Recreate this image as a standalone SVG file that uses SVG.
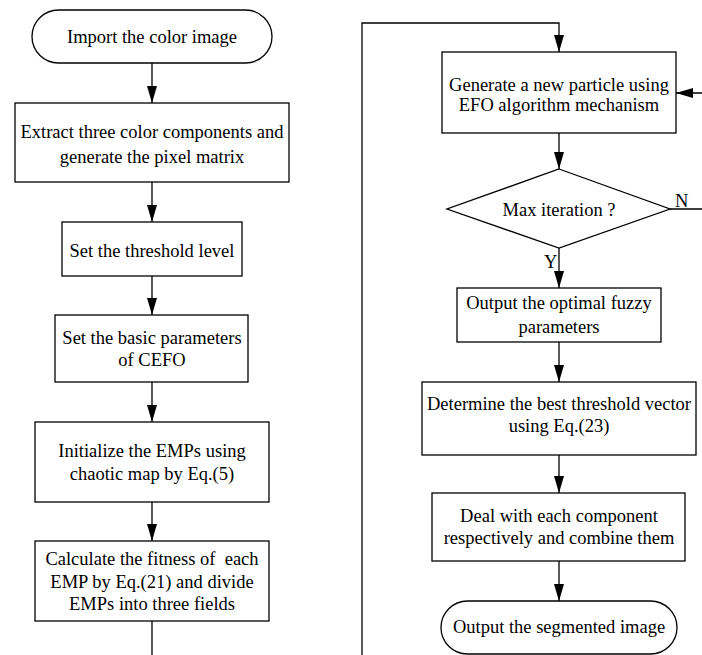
<svg xmlns="http://www.w3.org/2000/svg" width="702" height="655" viewBox="0 0 702 655">
<style>
.n{fill:#fff;stroke:#000;stroke-width:1.3}
.t{font-family:"Liberation Serif","Times New Roman",serif;font-size:18.5px;fill:#000;text-anchor:middle}
.l{font-family:"Liberation Serif","Times New Roman",serif;font-size:18.5px;fill:#000}
.c{fill:none;stroke:#000;stroke-width:1.3}
</style>
<defs>
<marker id="ah" viewBox="0 0 17 10" refX="17" refY="5" markerWidth="17" markerHeight="10" markerUnits="userSpaceOnUse" orient="auto">
<path d="M0,0 L17,5 L0,10 z" fill="#000"/>
</marker>
</defs>
<rect width="702" height="655" fill="#fff"/>
<g id="connectors">
<line class="c" x1="152" y1="63" x2="152" y2="103" marker-end="url(#ah)"/>
<line class="c" x1="152" y1="182" x2="152" y2="222" marker-end="url(#ah)"/>
<line class="c" x1="152" y1="276" x2="152" y2="315" marker-end="url(#ah)"/>
<line class="c" x1="152" y1="382" x2="152" y2="422" marker-end="url(#ah)"/>
<line class="c" x1="152" y1="502" x2="152" y2="541" marker-end="url(#ah)"/>
<line class="c" x1="152" y1="621" x2="152" y2="656"/>
<path class="c" d="M362,656 V23 H559 V52" marker-end="url(#ah)"/>
<line class="c" x1="559" y1="133" x2="559" y2="169" marker-end="url(#ah)"/>
<path class="c" d="M670,209 H712 V93 H676" marker-end="url(#ah)"/>
<line class="c" x1="559" y1="248" x2="559" y2="288" marker-end="url(#ah)"/>
<line class="c" x1="559" y1="342" x2="559" y2="382" marker-end="url(#ah)"/>
<line class="c" x1="559" y1="455" x2="559" y2="493" marker-end="url(#ah)"/>
<line class="c" x1="559" y1="561" x2="559" y2="601" marker-end="url(#ah)"/>
<text class="l" x="675" y="207">N</text>
<text class="l" x="544" y="268">Y</text>
</g>
<g id="start">
<rect class="n" x="32" y="10" width="240" height="53" rx="26.5" ry="26.5"/>
<text class="t" x="152" y="43">Import the color image</text>
</g>
<g id="extract">
<rect class="n" x="15" y="103" width="274" height="79"/>
<text class="t" x="152" y="137.5">Extract three color components and</text>
<text class="t" x="152" y="162.5">generate the pixel matrix</text>
</g>
<g id="threshold">
<rect class="n" x="62" y="222" width="180" height="54"/>
<text class="t" x="152" y="256.5">Set the threshold level</text>
</g>
<g id="params">
<rect class="n" x="55" y="315" width="193" height="67"/>
<text class="t" x="152" y="344">Set the basic parameters</text>
<text class="t" x="152" y="365.5">of CEFO</text>
</g>
<g id="init">
<rect class="n" x="35" y="422" width="234" height="80"/>
<text class="t" x="152" y="457">Initialize the EMPs using</text>
<text class="t" x="152" y="480">chaotic map by Eq.(5)</text>
</g>
<g id="fitness">
<rect class="n" x="35" y="541" width="234" height="80"/>
<text class="t" x="152" y="565" xml:space="preserve">Calculate the fitness of  each</text>
<text class="t" x="152" y="588">EMP by Eq.(21) and divide</text>
<text class="t" x="152" y="610">EMPs into three fields</text>
</g>
<g id="generate">
<rect class="n" x="442" y="52" width="234" height="81"/>
<text class="t" x="559" y="90.5">Generate a new particle using</text>
<text class="t" x="559" y="111">EFO algorithm mechanism</text>
</g>
<g id="decision">
<polygon class="n" points="559,169 670,209 559,248 447,209"/>
<text class="t" x="559" y="216">Max iteration ?</text>
</g>
<g id="optimal">
<rect class="n" x="457" y="288" width="204" height="54"/>
<text class="t" x="559" y="308.5">Output the optimal fuzzy</text>
<text class="t" x="559" y="333">parameters</text>
</g>
<g id="best">
<rect class="n" x="422" y="382" width="274" height="73"/>
<text class="t" x="559" y="410">Determine the best threshold vector</text>
<text class="t" x="559" y="432">using Eq.(23)</text>
</g>
<g id="deal">
<rect class="n" x="432" y="493" width="253" height="68"/>
<text class="t" x="559" y="521.5">Deal with each component</text>
<text class="t" x="559" y="544">respectively and combine them</text>
</g>
<g id="end">
<rect class="n" x="441" y="601" width="236" height="53" rx="26.5" ry="26.5"/>
<text class="t" x="559" y="633">Output the segmented image</text>
</g>
</svg>
